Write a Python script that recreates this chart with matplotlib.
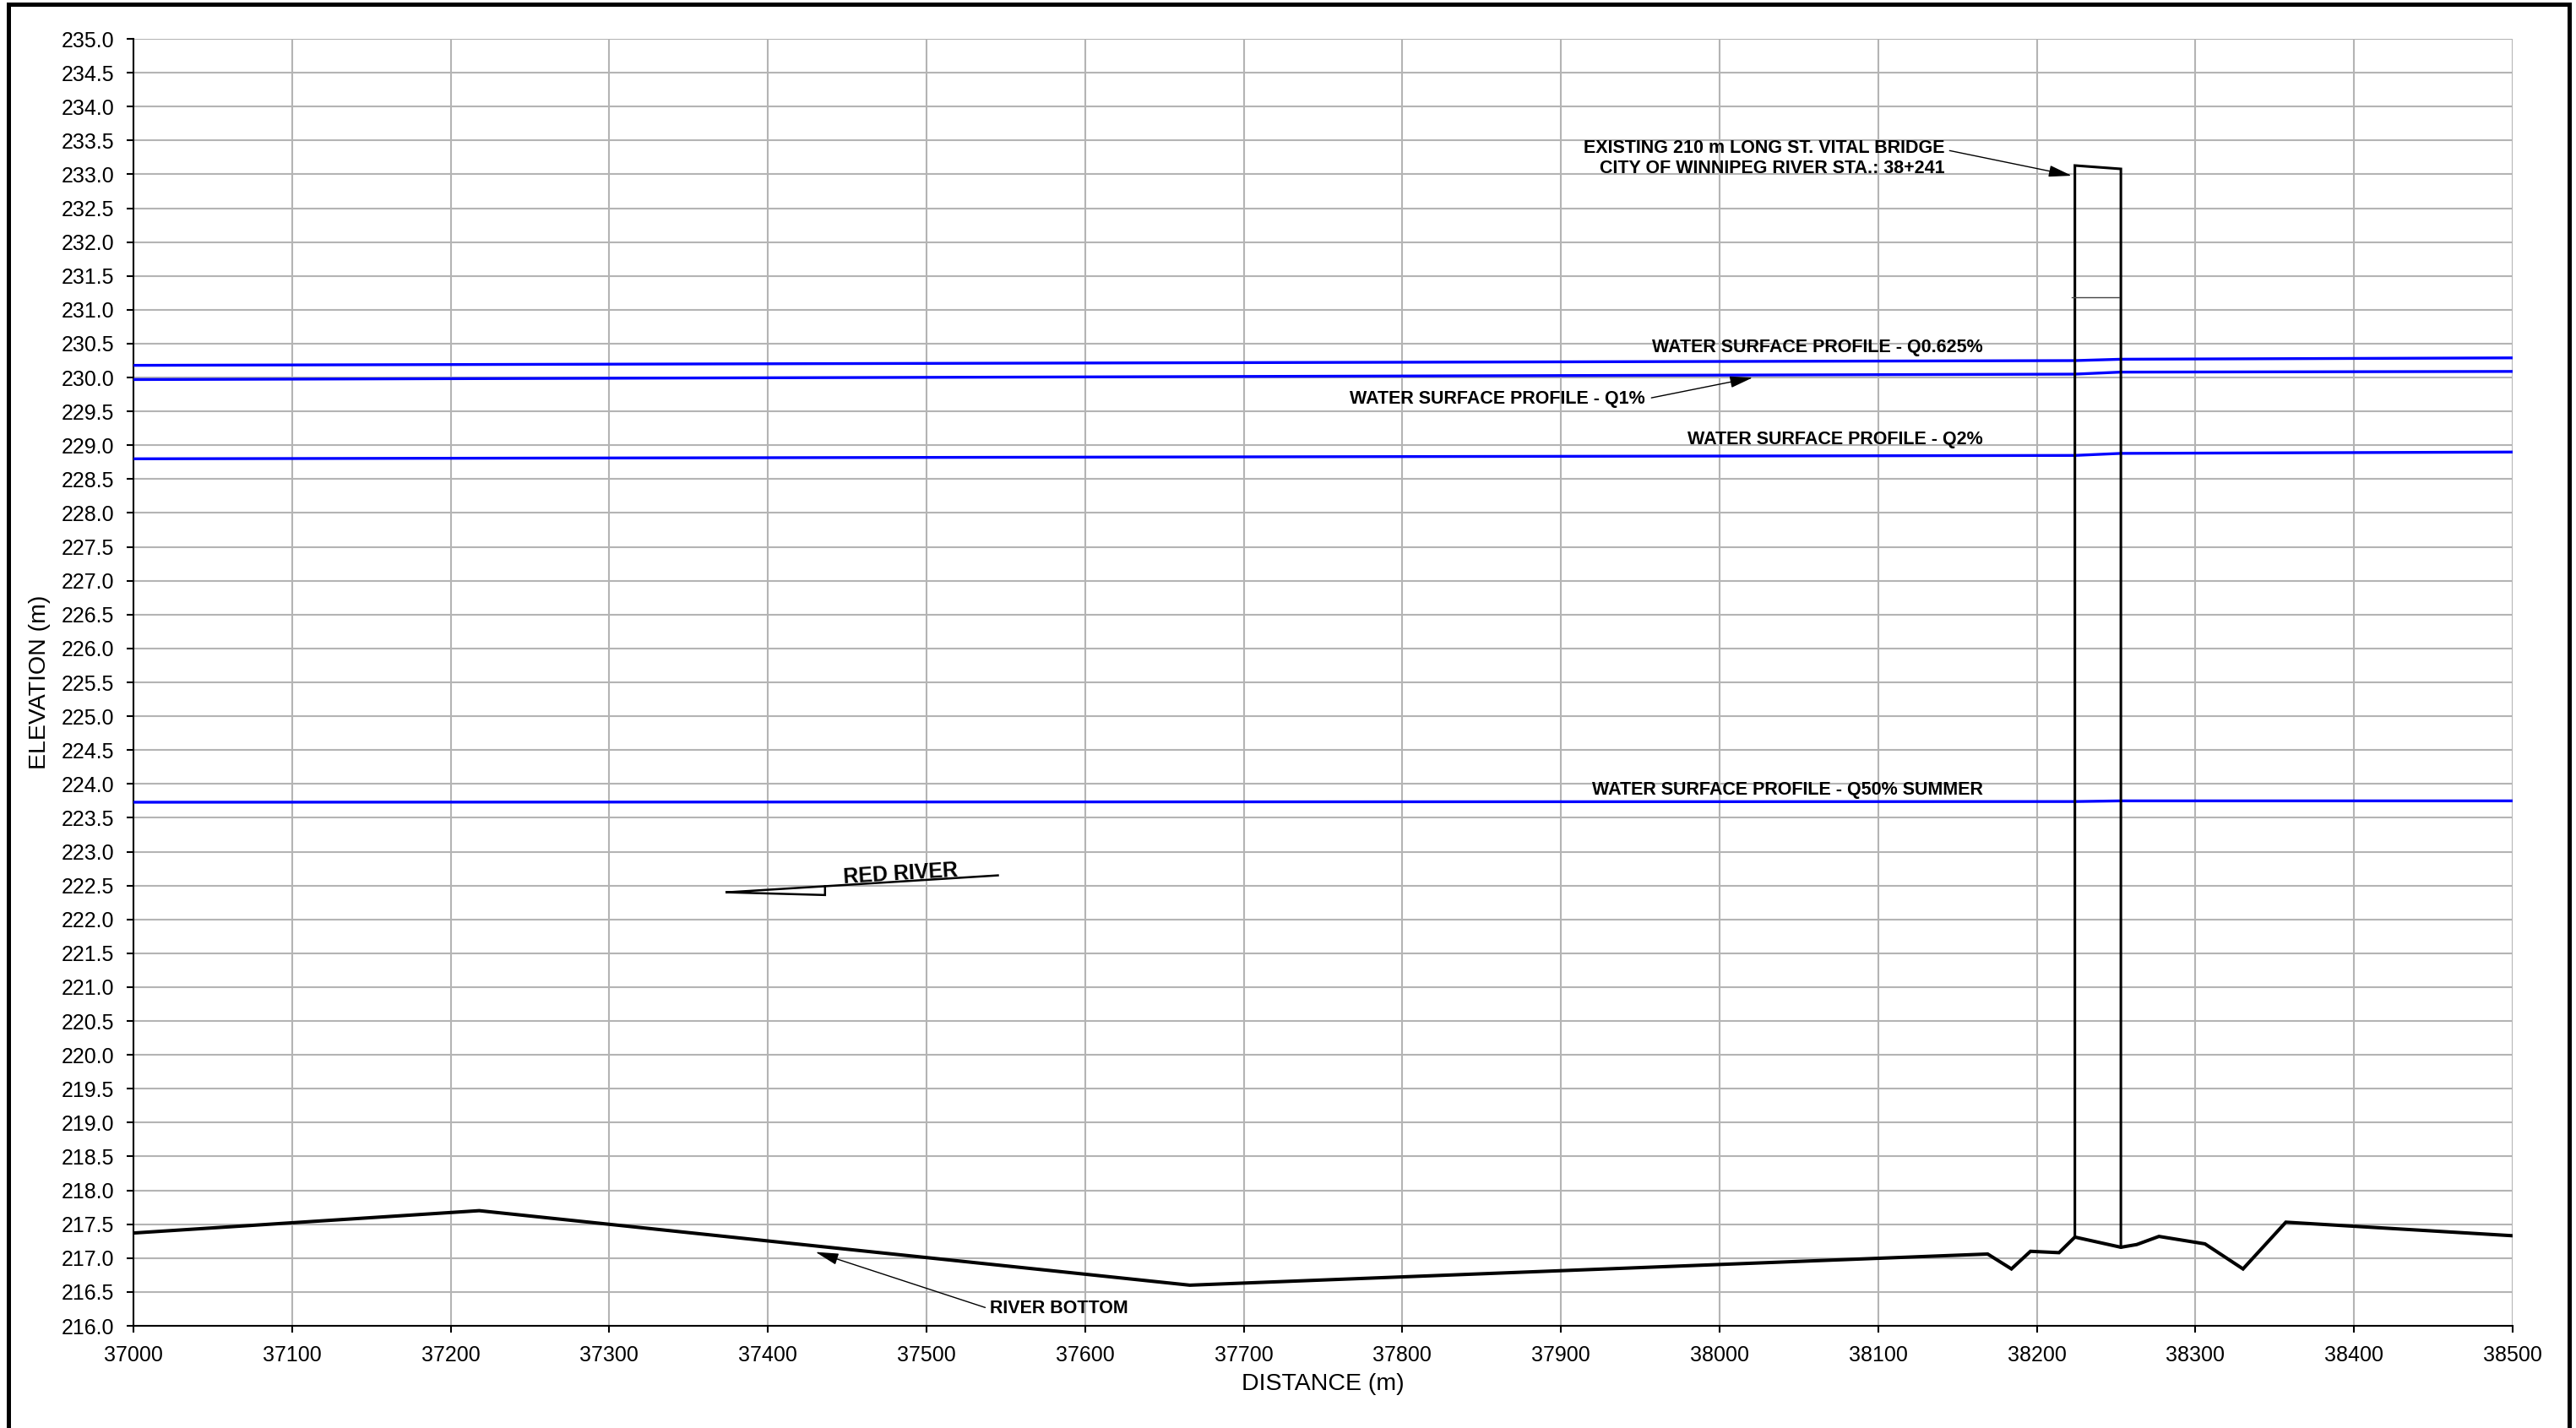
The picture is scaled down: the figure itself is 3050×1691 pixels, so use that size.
import matplotlib
matplotlib.use("Agg")
import matplotlib.pyplot as plt
from matplotlib.lines import Line2D
import numpy as np

plt.rcParams['font.family'] = ['Liberation Sans', 'DejaVu Sans']

# ---------------- data ----------------
x_ticks = list(range(37000, 38501, 100))
y_ticks = [216.0 + 0.5 * i for i in range(39)]
y_tick_labels = [f"{v:.1f}" for v in y_ticks]

# river bottom profile
bottom_x = [37000, 37218, 37666, 38169, 38184, 38196, 38214, 38224, 38253,
            38263, 38277, 38306, 38330, 38357, 38500]
bottom_y = [217.37, 217.70, 216.60, 217.06, 216.84, 217.10, 217.08, 217.31,
            217.16, 217.20, 217.32, 217.21, 216.84, 217.53, 217.33]

# water surface profiles
ws_x = [37000, 38224, 38253, 38500]
ws_q0625 = [230.18, 230.25, 230.27, 230.29]
ws_q1 = [229.97, 230.05, 230.08, 230.09]
ws_q2 = [228.80, 228.85, 228.88, 228.90]
ws_q50 = [223.73, 223.74, 223.75, 223.75]

# bridge outline
bridge_x = [38224, 38224, 38253, 38253]
bridge_y = [217.31, 233.13, 233.08, 217.16]
low_chord_x = [38222, 38252]
low_chord_y = [231.18, 231.18]

# labels
ws_labels = ["WATER SURFACE PROFILE - Q0.625%",
             "WATER SURFACE PROFILE - Q1%",
             "WATER SURFACE PROFILE - Q2%",
             "WATER SURFACE PROFILE - Q50% SUMMER"]
bridge_labels = ["EXISTING 210 m LONG ST. VITAL BRIDGE",
                 "CITY OF WINNIPEG RIVER STA.: 38+241"]
river_label = "RED RIVER"
bottom_label = "RIVER BOTTOM"
x_label = "DISTANCE (m)"
y_label = "ELEVATION (m)"

# ---------------- figure ----------------
W, H = 3050, 1691
fig = plt.figure(figsize=(W / 100, H / 100), dpi=100)
ax = fig.add_axes([158 / W, 121 / H, 2817 / W, 1524 / H])

ax.set_xlim(37000, 38500)
ax.set_ylim(216, 235)
ax.set_xticks(x_ticks)
ax.set_yticks(y_ticks)
ax.set_yticklabels(y_tick_labels)
ax.grid(True, color='#b4b4b4', lw=1.5)
ax.set_axisbelow(True)
for s in ['top', 'right']:
    ax.spines[s].set_visible(False)
for s in ['left', 'bottom']:
    ax.spines[s].set_linewidth(1.5)
    ax.spines[s].set_color('black')
ax.tick_params(direction='out', length=5.5, width=1.5, labelsize=18, pad=11,
               colors='black')

ax.set_xlabel(x_label, fontsize=20.5)
ax.xaxis.set_label_coords(0.5, -0.037)
ax.set_ylabel(y_label, fontsize=20.5)
ax.yaxis.label.set_va('center')
ax.yaxis.set_label_coords(-0.0394, 0.5)

# water surfaces
for ys in [ws_q0625, ws_q1, ws_q2, ws_q50]:
    ax.plot(ws_x, ys, color='#0000ff', lw=2.4, solid_joinstyle='miter', zorder=3)

# river bottom
ax.plot(bottom_x, bottom_y, color='black', lw=2.9, solid_joinstyle='miter', zorder=4)

# bridge
ax.plot(bridge_x, bridge_y, color='black', lw=2.2, solid_joinstyle='miter', zorder=5)
ax.plot(low_chord_x, low_chord_y, color='#444444', lw=1.0, zorder=5)

lab_kw = dict(fontsize=15.5, fontweight='bold', ha='right', va='baseline', zorder=6)
ax.text(38166, 230.37, ws_labels[0], **lab_kw)
ax.text(37953, 229.62, ws_labels[1], **lab_kw)
ax.text(38166, 229.02, ws_labels[2], **lab_kw)
ax.text(38166, 223.84, ws_labels[3], **lab_kw)
ax.text(38142, 233.32, bridge_labels[0], **lab_kw)
ax.text(38142, 233.02, bridge_labels[1], **lab_kw)
ax.text(37540, 216.19, bottom_label, fontsize=15.5, fontweight='bold',
        ha='left', va='baseline', zorder=6)

arrow_kw = dict(arrowstyle='-|>,head_length=0.6,head_width=0.15',
                color='black', lw=1.0, mutation_scale=28,
                shrinkA=0, shrinkB=0)
ax.annotate('', xy=(38021, 230.00), xytext=(37957, 229.70), arrowprops=arrow_kw)
ax.annotate('', xy=(38222, 232.98), xytext=(38145, 233.35), arrowprops=arrow_kw)
ax.annotate('', xy=(37430, 217.09), xytext=(37537, 216.27), arrowprops=arrow_kw)

# red river flow arrow
ax.plot([37374, 37436, 37436, 37374], [222.40, 222.49, 222.36, 222.40],
        color='black', lw=1.8, solid_joinstyle='miter', zorder=5)
ax.plot([37436, 37545], [222.49, 222.65], color='black', lw=1.8, zorder=5)
ax.text(37484, 222.59, river_label, fontsize=18, fontweight='bold',
        rotation=3.5, rotation_mode='anchor', ha='center', va='baseline', zorder=6)

# page frame
lx, rx, ty = 9.5 / W, 3042 / W, 1 - 5 / H
fig.add_artist(Line2D([lx, lx, rx, rx], [0, ty, ty, 0], transform=fig.transFigure,
                      color='black', lw=3.6, solid_joinstyle='miter'))

fig.savefig('out.png', dpi=100, facecolor='white')
